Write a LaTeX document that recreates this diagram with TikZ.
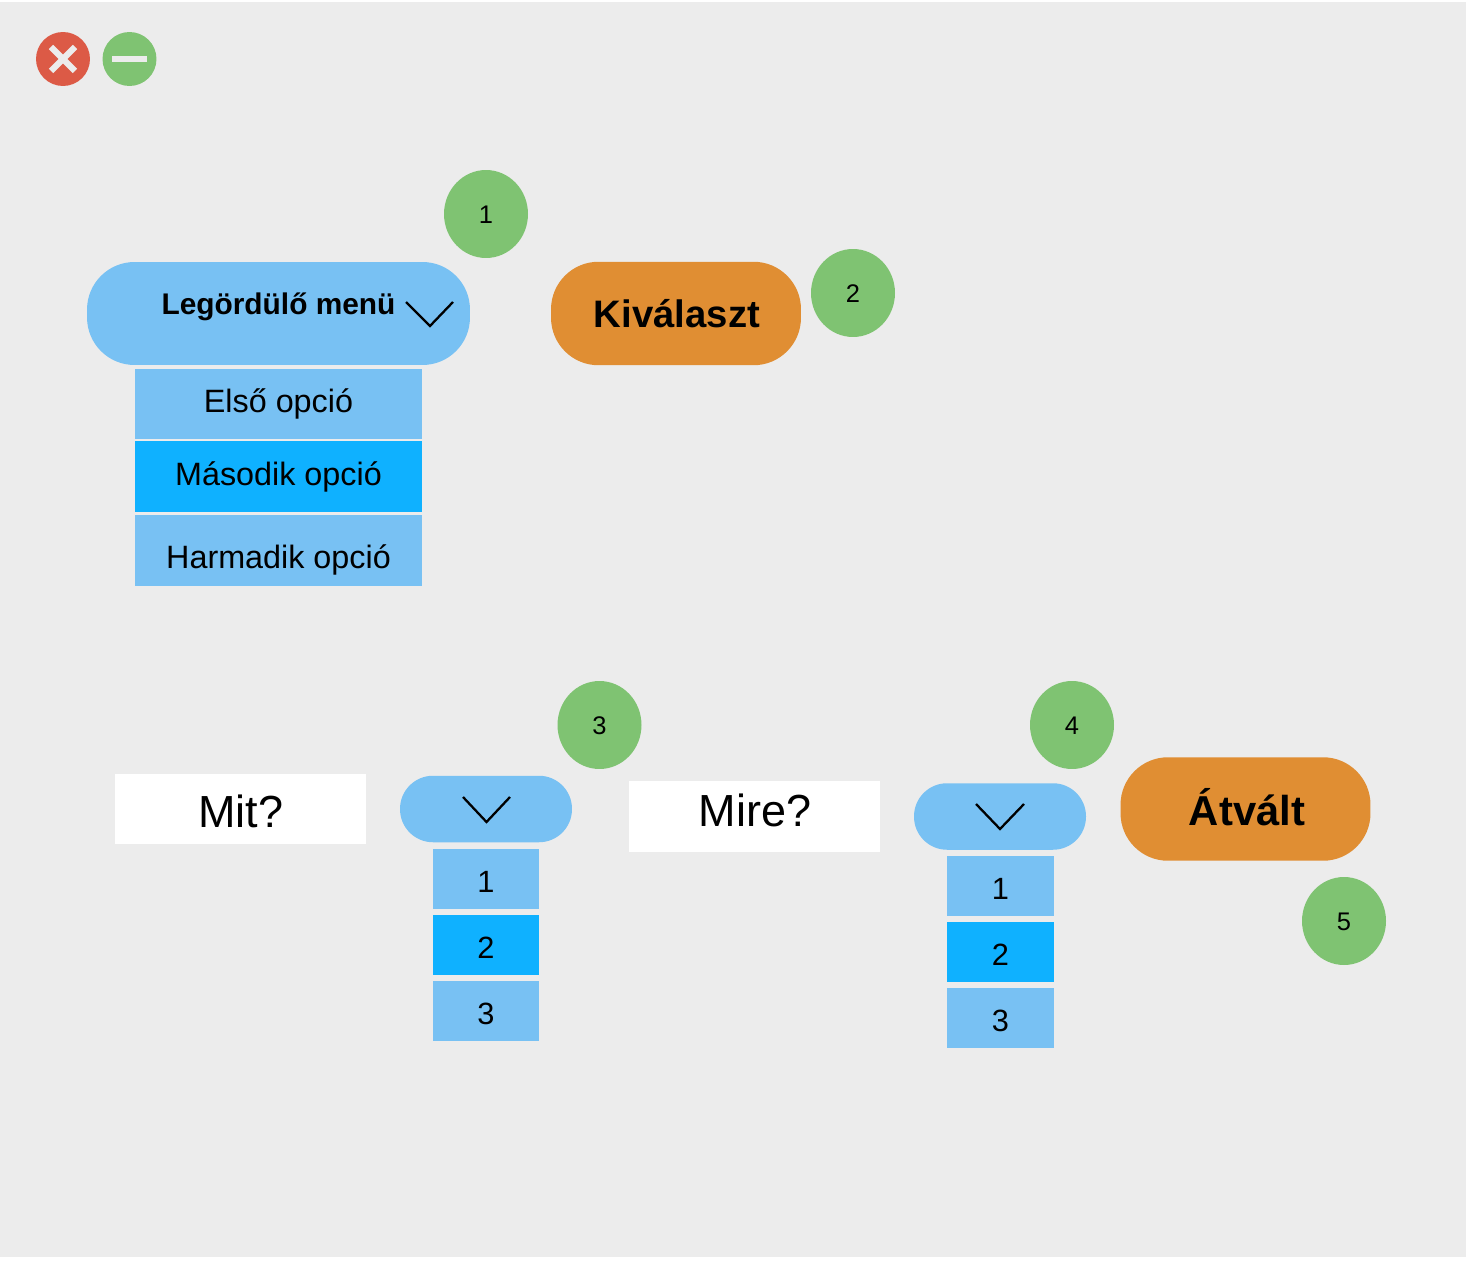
\documentclass[tikz,border=0pt]{standalone}
\usepackage{fontspec}
\setmainfont{Liberation Sans}
\usetikzlibrary{shapes.geometric}
\definecolor{bggray}{HTML}{ECECEC}
\definecolor{menublue}{HTML}{78C1F3}
\definecolor{selblue}{HTML}{0FB1FF}
\definecolor{btnorange}{HTML}{E08E33}
\definecolor{okgreen}{HTML}{7FC372}
\definecolor{closered}{HTML}{DC5A46}
\tikzstyle{badge}=[ellipse, fill=okgreen, inner sep=0pt, minimum width=1.68cm, minimum height=1.76cm, text height=11pt, text depth=0pt, font=\fontsize{14.5}{14.5}\selectfont]
\tikzstyle{winbtn}=[circle, inner sep=0pt, minimum size=1.08cm]
\tikzstyle{pill}=[rectangle, fill=menublue, inner sep=0pt, rounded corners=0.95cm]
\tikzstyle{btn}=[pill, fill=btnorange, minimum width=5cm, minimum height=2.07cm]
\tikzstyle{smallpill}=[pill, rounded corners=0.66cm, minimum width=3.44cm, minimum height=1.33cm]
\tikzstyle{opt}=[rectangle, fill=menublue, inner sep=0pt, minimum width=5.74cm, minimum height=1.41cm]
\tikzstyle{opttext}=[inner sep=0pt, font=\fontsize{18.4}{18.4}\selectfont]
\tikzstyle{num}=[rectangle, fill=menublue, inner sep=0pt, minimum width=2.13cm, minimum height=1.2cm, text height=15pt, text depth=0pt, font=\fontsize{17.5}{17.5}\selectfont]
\tikzstyle{askbox}=[rectangle, fill=white, inner sep=0pt, minimum width=5.02cm, minimum height=1.41cm]
\tikzstyle{asktext}=[inner sep=0pt, font=\fontsize{25.6}{25.6}\selectfont]
\tikzstyle{chev}=[line width=1.3pt, black]
\begin{document}
\begin{tikzpicture}[x=0.02cm,y=-0.02cm]
\useasboundingbox (0,0) rectangle (1466,1270);
\fill[bggray] (0,2) rectangle (1466,1257);
% window buttons
\node[winbtn, fill=closered] (close) at (63,59) {};
\node[winbtn, fill=okgreen] (minimize) at (129.5,59) {};
\draw[bggray, line width=3.6pt] (51,47) -- (75,71);
\draw[bggray, line width=3.6pt] (51,71) -- (75,47);
\fill[bggray] (112,56) rectangle (147,62.5);
% first menu
\node[pill, minimum width=7.66cm, minimum height=2.06cm] (menu) at (278.5,313.5) {};
\node[inner sep=0pt, font=\fontsize{17}{17}\selectfont\bfseries] (menutext) at (278.5,307) {Legördülő menü};
\draw[chev] (406,302) -- (430,326) -- (453,302);
\node[opt] (first) at (278.5,404) {};
\node[opttext] (firsttext) at (278.5,404) {Első opció};
\node[opt, fill=selblue] (second) at (278.5,476.5) {};
\node[opttext] (secondtext) at (278.5,477) {Második opció};
\node[opt] (third) at (278.5,550.5) {};
\node[opttext] (thirdtext) at (278.5,560) {Harmadik opció};
\node[btn] (choose) at (676,313.5) {};
\node[inner sep=0pt, font=\fontsize{21.8}{21.8}\selectfont\bfseries] (choosetext) at (677,314) {Kiválaszt};
\node[badge] (b1) at (486,214) {1};
\node[badge] (b2) at (853,293) {2};
% second row
\node[askbox] (what) at (240.5,809) {};
\node[asktext] (whattext) at (241,811) {Mit?};
\node[smallpill] (menua) at (486,809) {};
\draw[chev] (463,797) -- (486.5,822) -- (510,797);
\node[num] (a1) at (486,879) {1};
\node[num, fill=selblue] (a2) at (486,945) {2};
\node[num] (a3) at (486,1011) {3};
\node[askbox] (whereto) at (754.5,816.5) {};
\node[asktext] (wheretotext) at (755,810) {Mire?};
\node[smallpill] (menub) at (1000,816.5) {};
\draw[chev] (976,804) -- (1000,829) -- (1024,804);
\node[num] (c1) at (1000.5,886) {1};
\node[num, fill=selblue] (c2) at (1000.5,952) {2};
\node[num] (c3) at (1000.5,1018) {3};
\node[btn] (convert) at (1245.5,809) {};
\node[inner sep=0pt, font=\fontsize{23.8}{23.8}\selectfont\bfseries] (converttext) at (1247,807) {Átvált};
\node[badge] (b3) at (599.5,725) {3};
\node[badge] (b4) at (1072,725) {4};
\node[badge] (b5) at (1344,921) {5};
\end{tikzpicture}
\end{document}
